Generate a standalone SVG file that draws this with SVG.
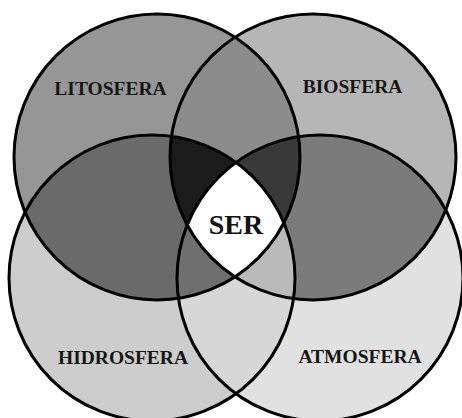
<svg xmlns="http://www.w3.org/2000/svg" xmlns:xlink="http://www.w3.org/1999/xlink" width="462" height="418" viewBox="0 0 462 418">
<style>
.ring{fill:none;stroke:#000;stroke-width:3}
.lbl{font-family:"Liberation Serif","DejaVu Serif",serif;font-weight:bold;font-size:19.5px;fill:#161616;text-anchor:middle}
.big{font-size:28px;fill:#111}
</style>
<defs>
<circle id="cTL" cx="157" cy="157" r="143"/>
<circle id="cTR" cx="313" cy="157" r="143"/>
<circle id="cBL" cx="152" cy="278" r="143"/>
<circle id="cBR" cx="320" cy="278" r="143"/>
<clipPath id="kTL"><use href="#cTL"/></clipPath>
<clipPath id="kTR"><use href="#cTR"/></clipPath>
<clipPath id="kBL"><use href="#cBL"/></clipPath>
<clipPath id="kBR"><use href="#cBR"/></clipPath>
</defs>
<rect width="462" height="418" fill="#fff"/>
<g id="regions">
<use href="#cTL" fill="#969696"/>
<use href="#cTR" fill="#b6b6b6"/>
<use href="#cBL" fill="#cdcdcd"/>
<use href="#cBR" fill="#e1e1e1"/>
<g clip-path="url(#kTR)"><use href="#cTL" fill="#8c8c8c"/></g>
<g clip-path="url(#kBL)"><use href="#cTL" fill="#6a6a6a"/></g>
<g clip-path="url(#kBR)"><use href="#cTR" fill="#7b7b7b"/></g>
<g clip-path="url(#kBR)"><use href="#cBL" fill="#d7d7d7"/></g>
<g clip-path="url(#kTR)"><g clip-path="url(#kBL)"><use href="#cTL" fill="#1b1b1b"/></g></g>
<g clip-path="url(#kTR)"><g clip-path="url(#kBR)"><use href="#cTL" fill="#393939"/></g></g>
<g clip-path="url(#kBL)"><g clip-path="url(#kBR)"><use href="#cTL" fill="#6f6f6f"/></g></g>
<g clip-path="url(#kBL)"><g clip-path="url(#kBR)"><use href="#cTR" fill="#bababa"/></g></g>
<g clip-path="url(#kTR)"><g clip-path="url(#kBL)"><g clip-path="url(#kBR)"><use href="#cTL" fill="#ffffff"/></g></g></g>
</g>
<g id="litosfera">
<use href="#cTL" class="ring"/>
<text class="lbl" x="110.5" y="95">LITOSFERA</text>
</g>
<g id="biosfera">
<use href="#cTR" class="ring"/>
<text class="lbl" x="352.5" y="93">BIOSFERA</text>
</g>
<g id="hidrosfera">
<use href="#cBL" class="ring"/>
<text class="lbl" x="123" y="364">HIDROSFERA</text>
</g>
<g id="atmosfera">
<use href="#cBR" class="ring"/>
<text class="lbl" x="360" y="363">ATMOSFERA</text>
</g>
<g id="ser">
<text class="lbl big" x="236" y="234">SER</text>
</g>
</svg>
